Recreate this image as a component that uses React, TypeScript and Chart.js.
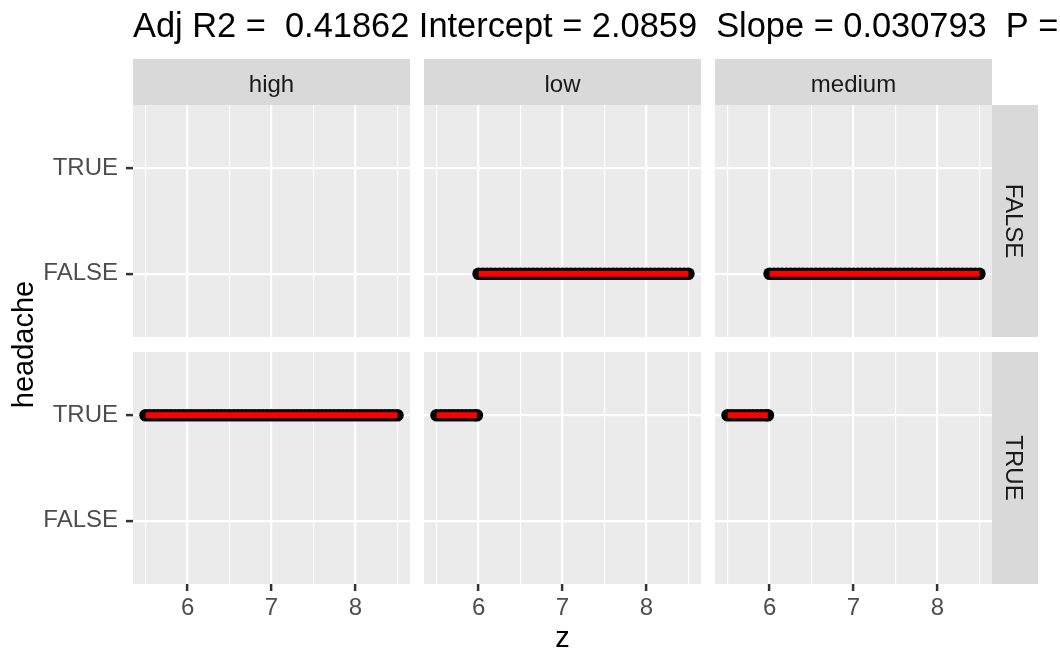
import React, { useEffect, useRef } from "react";
import { Chart, registerables } from "chart.js";

Chart.register(...registerables);

// ---------- data ----------
const TITLE = "Adj R2 =  0.41862 Intercept = 2.0859  Slope = 0.030793  P =";
const X_TITLE = "z";
const Y_TITLE = "headache";
const colFacets = ["high", "low", "medium"];
const rowFacets = ["FALSE", "TRUE"];
const yTickLabels = ["FALSE", "TRUE"]; // discrete levels 1, 2
const xMajorTicks = [6, 7, 8];
const xGridBreaks = [5.5, 6, 6.5, 7, 7.5, 8, 8.5];

// z values per panel (row FALSE / TRUE × col high / low / medium)
const zHighFalse: number[] = [];
const zHighTrue = [
  5.5, 5.55, 5.6, 5.65, 5.7, 5.75, 5.8, 5.85, 5.9, 5.95,
  6.0, 6.05, 6.1, 6.15, 6.2, 6.25, 6.3, 6.35, 6.4, 6.45,
  6.5, 6.55, 6.6, 6.65, 6.7, 6.75, 6.8, 6.85, 6.9, 6.95,
  7.0, 7.05, 7.1, 7.15, 7.2, 7.25, 7.3, 7.35, 7.4, 7.45,
  7.5, 7.55, 7.6, 7.65, 7.7, 7.75, 7.8, 7.85, 7.9, 7.95,
  8.0, 8.05, 8.1, 8.15, 8.2, 8.25, 8.3, 8.35, 8.4, 8.45, 8.5,
];
const zLowFalse = [
  6.0, 6.05, 6.1, 6.15, 6.2, 6.25, 6.3, 6.35, 6.4, 6.45,
  6.5, 6.55, 6.6, 6.65, 6.7, 6.75, 6.8, 6.85, 6.9, 6.95,
  7.0, 7.05, 7.1, 7.15, 7.2, 7.25, 7.3, 7.35, 7.4, 7.45,
  7.5, 7.55, 7.6, 7.65, 7.7, 7.75, 7.8, 7.85, 7.9, 7.95,
  8.0, 8.05, 8.1, 8.15, 8.2, 8.25, 8.3, 8.35, 8.4, 8.45, 8.5,
];
const zLowTrue = [5.5, 5.55, 5.6, 5.65, 5.7, 5.75, 5.8, 5.85, 5.9, 5.95, 5.98];
const zMediumFalse = [
  6.0, 6.05, 6.1, 6.15, 6.2, 6.25, 6.3, 6.35, 6.4, 6.45,
  6.5, 6.55, 6.6, 6.65, 6.7, 6.75, 6.8, 6.85, 6.9, 6.95,
  7.0, 7.05, 7.1, 7.15, 7.2, 7.25, 7.3, 7.35, 7.4, 7.45,
  7.5, 7.55, 7.6, 7.65, 7.7, 7.75, 7.8, 7.85, 7.9, 7.95,
  8.0, 8.05, 8.1, 8.15, 8.2, 8.25, 8.3, 8.35, 8.4, 8.45, 8.5,
];
const zMediumTrue = [5.5, 5.55, 5.6, 5.65, 5.7, 5.75, 5.8, 5.85, 5.9, 5.95, 5.98];

const panelData: number[][][] = [
  [zHighFalse, zLowFalse, zMediumFalse], // row FALSE
  [zHighTrue, zLowTrue, zMediumTrue], // row TRUE
];

// ---------- layout / style ----------
const W = 1060;
const H = 651;
const PANEL_X = [
  [133, 410],
  [424, 701],
  [715, 992],
];
const PANEL_Y = [
  [105, 337],
  [352, 584],
];
const STRIP_TOP = 59;
const STRIP_SIZE = 46;
const X_MIN = 5.35;
const X_MAX = 8.65;
const Y_MIN = 0.4;
const Y_MAX = 2.6;
const FONT = "'Liberation Sans', Arial, Helvetica, sans-serif";

function buildConfig(row: number, col: number, withTitles: boolean): any {
  const level = yTickLabels.indexOf(rowFacets[row]) + 1;
  const zs = panelData[row][col];
  const pts = zs.map((z) => ({ x: z, y: level }));
  const [left, right] = PANEL_X[col];
  const [top, bottom] = PANEL_Y[row];
  const isLeft = col === 0;
  const isBottom = row === PANEL_Y.length - 1;
  const isTop = row === 0;
  const isRight = col === PANEL_X.length - 1;
  const yBox = isLeft ? 125 : 10;
  const xBox = isBottom ? 50 : 10;

  const decor = {
    id: "decor" + row + col,
    beforeDraw(chart: any) {
      const { ctx, chartArea: a } = chart;
      ctx.save();
      ctx.fillStyle = "#EBEBEB";
      ctx.fillRect(a.left, a.top, a.right - a.left, a.bottom - a.top);
      ctx.restore();
    },
    afterDraw(chart: any) {
      const { ctx, chartArea: a } = chart;
      ctx.save();
      if (isTop) {
        ctx.fillStyle = "#D9D9D9";
        ctx.fillRect(a.left, STRIP_TOP, a.right - a.left, STRIP_SIZE);
        ctx.fillStyle = "#1A1A1A";
        ctx.font = `24px ${FONT}`;
        ctx.textAlign = "center";
        ctx.textBaseline = "alphabetic";
        ctx.fillText(colFacets[col], (a.left + a.right) / 2, 91.5);
      }
      if (isRight) {
        ctx.fillStyle = "#D9D9D9";
        ctx.fillRect(a.right, a.top, STRIP_SIZE, a.bottom - a.top);
        ctx.fillStyle = "#1A1A1A";
        ctx.font = `24px ${FONT}`;
        ctx.textAlign = "center";
        ctx.textBaseline = "alphabetic";
        ctx.translate(a.right + 13.5, (a.top + a.bottom) / 2);
        ctx.rotate(Math.PI / 2);
        ctx.fillText(rowFacets[row], 0, 0);
      }
      ctx.restore();
      if (withTitles) {
        ctx.save();
        ctx.fillStyle = "#000000";
        ctx.font = `34.4px ${FONT}`;
        ctx.textAlign = "left";
        ctx.textBaseline = "alphabetic";
        ctx.fillText(TITLE, PANEL_X[0][0], 37);
        ctx.font = `29px ${FONT}`;
        ctx.textAlign = "center";
        ctx.fillText(X_TITLE, (PANEL_X[0][0] + PANEL_X[2][1]) / 2, 647);
        ctx.translate(33, (PANEL_Y[0][0] + PANEL_Y[1][1]) / 2);
        ctx.rotate(-Math.PI / 2);
        ctx.fillText(Y_TITLE, 0, 0);
        ctx.restore();
      }
    },
  };

  return {
    type: "scatter",
    data: {
      datasets: [
        {
          label: "fit",
          data: pts,
          showLine: true,
          borderColor: "#FF0000",
          borderWidth: 6,
          borderCapStyle: "butt",
          pointRadius: 0,
          fill: false,
        },
        {
          label: "obs",
          data: pts,
          showLine: false,
          pointRadius: 6.3,
          pointBackgroundColor: "#000000",
          pointBorderWidth: 0,
          pointBorderColor: "#000000",
        },
      ],
    },
    options: {
      animation: false,
      responsive: false,
      devicePixelRatio: 1,
      events: [],
      layout: {
        padding: {
          left: left - yBox,
          right: W - right,
          top: top,
          bottom: H - bottom - xBox,
        },
      },
      plugins: {
        legend: { display: false },
        tooltip: { enabled: false },
        title: { display: false },
      },
      scales: {
        x: {
          type: "linear",
          min: X_MIN,
          max: X_MAX,
          afterBuildTicks: (s: any) => {
            s.ticks = xGridBreaks.map((v) => ({ value: v }));
          },
          afterFit: (s: any) => {
            s.height = xBox;
          },
          border: { display: false },
          grid: {
            color: "#FFFFFF",
            lineWidth: (c: any) => (xMajorTicks.includes(c.tick?.value) ? 2.2 : 1.1),
            drawTicks: isBottom,
            tickLength: 7,
            tickWidth: 2.5,
            tickColor: (c: any) => (xMajorTicks.includes(c.tick?.value) ? "#333333" : "rgba(0,0,0,0)"),
          },
          ticks: {
            display: isBottom,
            autoSkip: false,
            maxRotation: 0,
            padding: 3,
            color: "#4D4D4D",
            font: { size: 24, family: FONT },
            callback: (v: number) => (xMajorTicks.includes(v) ? String(v) : ""),
          },
        },
        y: {
          type: "linear",
          min: Y_MIN,
          max: Y_MAX,
          afterBuildTicks: (s: any) => {
            s.ticks = yTickLabels.map((_, i) => ({ value: i + 1 }));
          },
          afterFit: (s: any) => {
            s.width = yBox;
          },
          border: { display: false },
          grid: {
            color: "#FFFFFF",
            lineWidth: 2.2,
            drawTicks: isLeft,
            tickLength: 7,
            tickWidth: 2.5,
            tickColor: "#333333",
          },
          ticks: {
            display: isLeft,
            autoSkip: false,
            padding: 8,
            color: "#4D4D4D",
            font: { size: 24, family: FONT },
            callback: (v: number) => yTickLabels[Math.round(v) - 1] ?? "",
          },
        },
      },
    },
    plugins: [decor],
  };
}

const panels: { row: number; col: number }[] = [];
rowFacets.forEach((_, r) => colFacets.forEach((__, c) => panels.push({ row: r, col: c })));

export default function App() {
  const refs = useRef<(HTMLCanvasElement | null)[]>([]);

  useEffect(() => {
    const charts: Chart[] = [];
    panels.forEach((p, i) => {
      const cv = refs.current[i];
      if (!cv) return;
      charts.push(new Chart(cv, buildConfig(p.row, p.col, i === 0)));
    });
    return () => charts.forEach((c) => c.destroy());
  }, []);

  return (
    <div style={{ position: "absolute", left: 0, top: 0, width: W, height: H, background: "#FFFFFF", overflow: "hidden" }}>
      {panels.map((p, i) => (
        <canvas
          key={i}
          ref={(el) => {
            refs.current[i] = el;
          }}
          width={W}
          height={H}
          style={{ position: "absolute", left: 0, top: 0, width: W, height: H }}
        />
      ))}
    </div>
  );
}
